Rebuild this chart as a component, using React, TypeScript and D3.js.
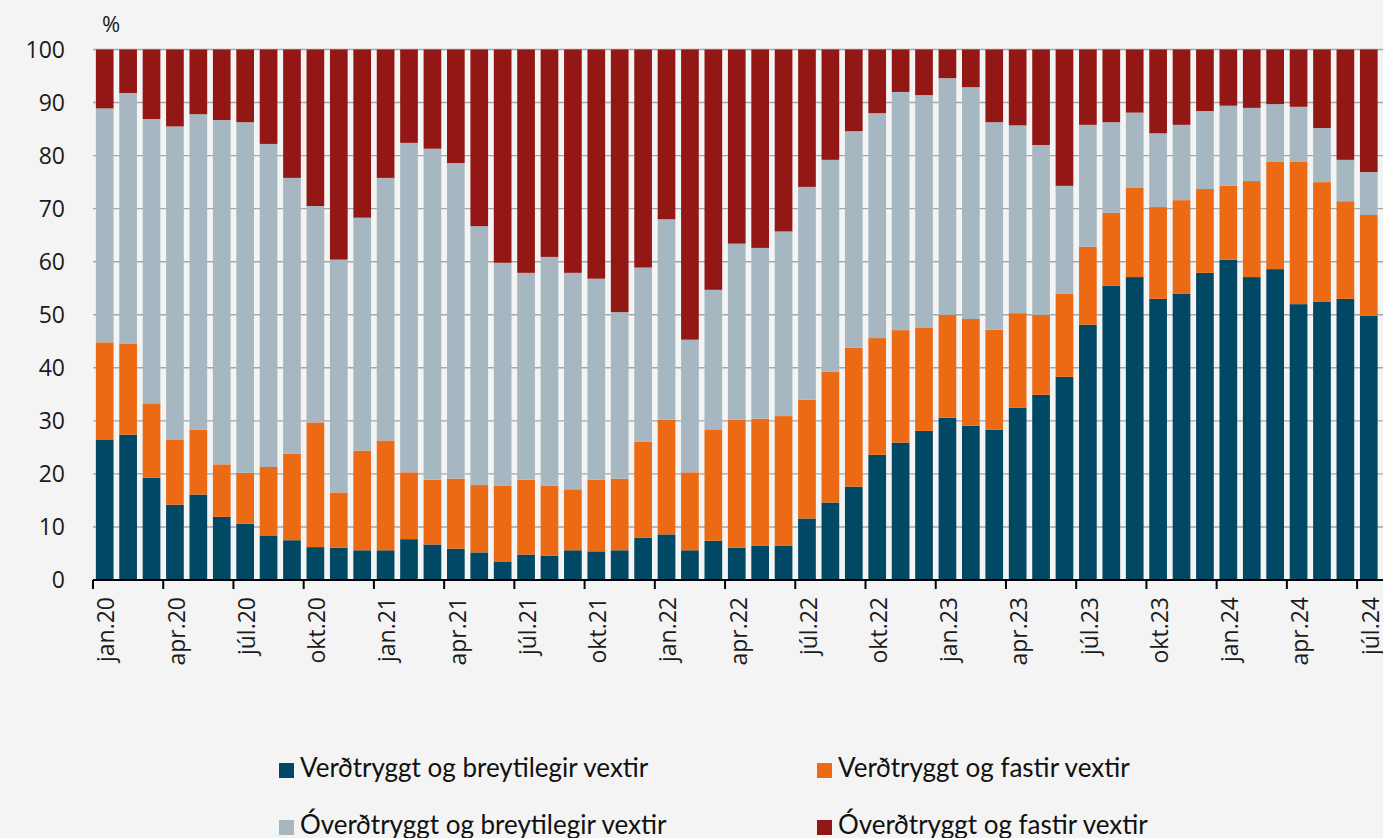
import React from "react";
import * as d3 from "d3";

const MONTHS = ["jan", "feb", "mar", "apr", "maí", "jún", "júl", "ágú", "sep", "okt", "nóv", "des"];
const YEARS = ["20", "21", "22", "23", "24"];
const categories: string[] = [];
YEARS.forEach((yy) => MONTHS.forEach((m) => categories.push(`${m}.${yy}`)));
categories.splice(55);

const verdBreyt = [26.5, 27.4, 19.3, 14.2, 16.1, 11.9, 10.6, 8.4, 7.5, 6.2, 6.1, 5.6, 5.6, 7.7, 6.7, 5.9, 5.2, 3.5, 4.8, 4.6, 5.6, 5.4, 5.6, 8.0, 8.6, 5.6, 7.4, 6.1, 6.5, 6.5, 11.6, 14.6, 17.6, 23.6, 25.9, 28.1, 30.6, 29.1, 28.3, 32.5, 34.9, 38.3, 48.1, 55.5, 57.1, 53.0, 54.0, 57.9, 60.4, 57.1, 58.6, 52.0, 52.5, 53.0, 49.8];
const verdFast = [18.3, 17.1, 14.0, 12.3, 12.2, 9.9, 9.6, 12.9, 16.3, 23.5, 10.4, 18.8, 20.7, 12.6, 12.2, 13.2, 12.7, 14.3, 14.1, 13.2, 11.5, 13.5, 13.5, 18.1, 21.6, 14.7, 21.0, 24.1, 23.9, 24.4, 22.4, 24.7, 26.2, 22.0, 21.2, 19.5, 19.4, 20.1, 18.9, 17.8, 15.1, 15.7, 14.7, 13.7, 16.8, 17.3, 17.6, 15.8, 13.9, 18.1, 20.2, 26.8, 22.5, 18.4, 19.0];
const overdBreyt = [44.1, 47.3, 53.6, 59.0, 59.5, 64.9, 66.1, 60.9, 52.0, 40.8, 43.9, 43.9, 49.5, 62.1, 62.4, 59.5, 48.8, 42.0, 39.0, 43.1, 40.8, 37.9, 31.4, 32.8, 37.8, 25.0, 26.3, 33.2, 32.2, 34.8, 40.1, 39.9, 40.8, 42.4, 44.9, 43.8, 44.6, 43.7, 39.1, 35.4, 32.0, 20.3, 23.0, 17.1, 14.2, 13.9, 14.2, 14.7, 15.1, 13.8, 10.9, 10.4, 10.2, 7.8, 8.1];
const overdFast = [11.1, 8.2, 13.1, 14.5, 12.2, 13.3, 13.7, 17.8, 24.2, 29.5, 39.6, 31.7, 24.2, 17.6, 18.7, 21.4, 33.3, 40.2, 42.1, 39.1, 42.1, 43.2, 49.5, 41.1, 32.0, 54.7, 45.3, 36.6, 37.4, 34.3, 25.9, 20.8, 15.4, 12.0, 8.0, 8.6, 5.4, 7.1, 13.7, 14.3, 18.0, 25.7, 14.2, 13.7, 11.9, 15.8, 14.2, 11.6, 10.6, 11.0, 10.3, 10.8, 14.8, 20.8, 23.1];

const seriesNames = [
  "Verðtryggt og breytilegir vextir",
  "Verðtryggt og fastir vextir",
  "Óverðtryggt og breytilegir vextir",
  "Óverðtryggt og fastir vextir",
];
const seriesColors = ["#004863", "#ec6a13", "#a7b7c2", "#931815"];
const yTicks = [0, 10, 20, 30, 40, 50, 60, 70, 80, 90, 100];

const W = 1383;
const H = 838;
const X0 = 93;
const X1 = 1380.5;
const Y0 = 580;
const Y100 = 49.5;

export default function App() {
  const keys = ["a", "b", "c", "d"];
  const rows = categories.map((c, i) => ({
    cat: c,
    a: verdBreyt[i],
    b: verdFast[i],
    c: overdBreyt[i],
    d: overdFast[i],
  }));
  const stacked = d3.stack<any>().keys(keys)(rows);
  const pad = 0.244;
  const x = d3
    .scaleBand<string>()
    .domain(categories)
    .range([X0, X1])
    .paddingInner(pad)
    .paddingOuter(pad / 2);
  const y = d3.scaleLinear().domain([0, 100]).range([Y0, Y100]);
  const step = x.step();
  const off = (step - x.bandwidth()) / 2;
  const tickFont = "'Open Sans', 'DejaVu Sans', sans-serif";
  const legendFont = "Lato, 'Open Sans', sans-serif";

  const legendItems = [
    { i: 0, x: 279, y: 763 },
    { i: 1, x: 817, y: 763 },
    { i: 2, x: 279, y: 820 },
    { i: 3, x: 817, y: 820 },
  ];

  return (
    <svg
      width={W}
      height={H}
      style={{ position: "absolute", left: 0, top: 0, background: "#f4f4f4" }}
    >
      <rect x={0} y={0} width={W} height={H} fill="#f4f4f4" />
      {yTicks.map((t) => (
        <line
          key={"g" + t}
          x1={X0}
          x2={W}
          y1={y(t)}
          y2={y(t)}
          stroke="#a6a6a6"
          strokeWidth={1.4}
        />
      ))}
      {stacked.map((s, si) => (
        <g key={s.key} fill={seriesColors[si]}>
          {s.map((d, i) => (
            <rect
              key={i}
              x={x(categories[i])}
              width={x.bandwidth()}
              y={y(d[1])}
              height={y(d[0]) - y(d[1])}
            />
          ))}
        </g>
      ))}
      <line x1={X0} x2={W} y1={Y0} y2={Y0} stroke="#000" strokeWidth={2} />
      {categories.map((c, i) =>
        i % 3 === 0 ? (
          <g key={"t" + i}>
            <line
              x1={(x(c) as number) - off}
              x2={(x(c) as number) - off}
              y1={Y0}
              y2={Y0 + 9}
              stroke="#000"
              strokeWidth={2}
            />
            <text
              transform={`translate(${(x(c) as number) + x.bandwidth() / 2 + 1.5},${Y0 + 17}) rotate(-90)`}
              textAnchor="end"
              dy="0.36em"
              fontFamily={tickFont}
              fontSize={23}
              fill="#1a1a1a"
            >
              {c}
            </text>
          </g>
        ) : null
      )}
      {yTicks.map((t) => (
        <text
          key={"yl" + t}
          x={65}
          y={y(t)}
          dy="0.36em"
          textAnchor="end"
          fontFamily={tickFont}
          fontSize={23}
          fill="#1a1a1a"
        >
          {t}
        </text>
      ))}
      <text x={102} y={32} fontFamily={tickFont} fontSize={22} fill="#1a1a1a">
        %
      </text>
      {legendItems.map((l) => (
        <g key={"l" + l.i}>
          <rect x={l.x} y={l.y} width={15} height={15} fill={seriesColors[l.i]} />
          <text
            x={l.x + 21}
            y={l.y + 14}
            fontFamily={legendFont}
            fontSize={26}
            fill="#111"
          >
            {seriesNames[l.i]}
          </text>
        </g>
      ))}
    </svg>
  );
}
